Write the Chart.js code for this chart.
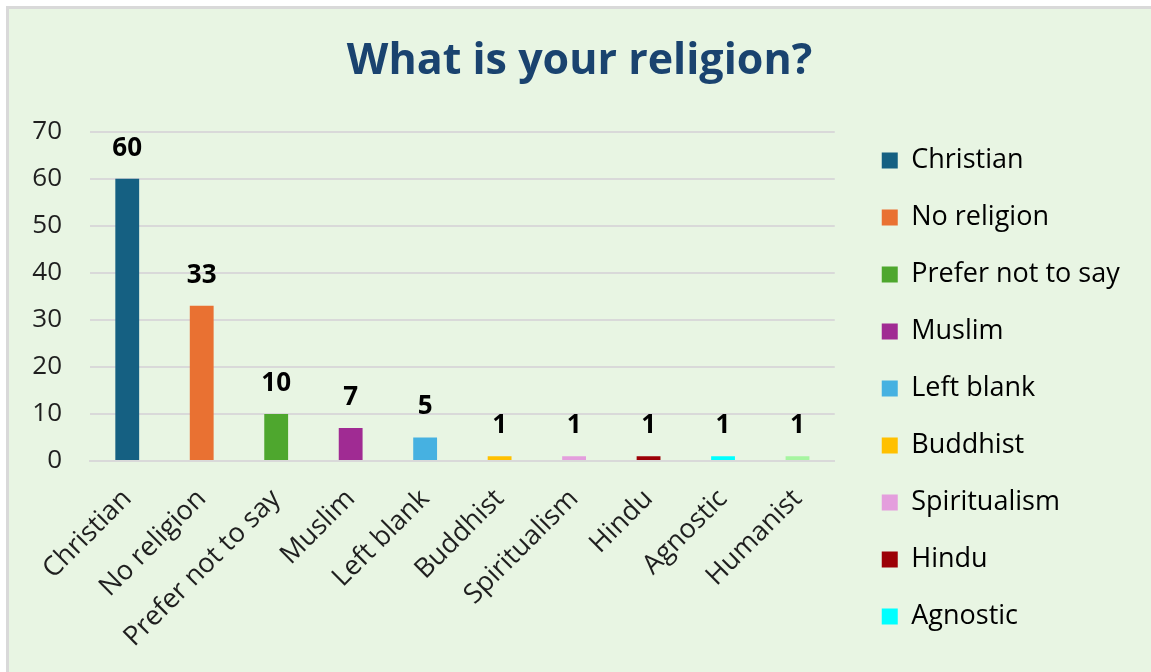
<!DOCTYPE html>
<html>
<head>
<meta charset="utf-8">
<script src="https://cdn.jsdelivr.net/npm/chart.js"></script>
<style>
  html, body { margin: 0; padding: 0; background: #fff; overflow: hidden; }
  .frame {
    position: absolute; left: 6px; top: 6px;
    width: 1160px; height: 700px;
    border: 3px solid #d9d9d9;
    background: #e8f5e3;
    overflow: hidden;
  }
  canvas { display: block; }
</style>
</head>
<body>
<div class="frame">
  <canvas id="religion" width="1142" height="663"></canvas>
</div>
<script>
const religions = ["Christian", "No religion", "Prefer not to say", "Muslim", "Left blank",
  "Buddhist", "Spiritualism", "Hindu", "Agnostic", "Humanist"];
const counts = [60, 33, 10, 7, 5, 1, 1, 1, 1, 1];
const barColours = ["#156082", "#e97132", "#4ea72e", "#a02b93", "#46b1e1",
  "#ffc000", "#e49edd", "#9c0006", "#00ffff", "#a6f5a0"];
const yTicks = [0, 10, 20, 30, 40, 50, 60, 70];
// legend runs out of room before the last entry
const legendShown = 9;

const FONT = "'Open Sans', 'Liberation Sans', sans-serif";

// value printed above every bar
const barValues = {
  id: "barValues",
  afterDatasetsDraw(chart) {
    const ctx = chart.ctx;
    const meta = chart.getDatasetMeta(0);
    ctx.save();
    ctx.font = "bold 26px " + FONT;
    ctx.fillStyle = "#000";
    ctx.textAlign = "center";
    ctx.textBaseline = "alphabetic";
    meta.data.forEach((bar, i) => {
      ctx.fillText(String(counts[i]), bar.x, bar.y - 23);
    });
    ctx.restore();
  }
};

// legend sits a bit off the plot and below the title; title centred on the frame
const boxPlace = {
  id: "boxPlace",
  afterLayout(chart) {
    const lg = chart.legend;
    const dx = 17, top = 108;
    lg.left += dx; lg.right += dx;
    const h = lg.bottom - lg.top;
    lg.top = top; lg.bottom = top + h;
    const t = chart.titleBlock;
    t.left += 20; t.right += 20;
  }
};

new Chart(document.getElementById("religion"), {
  type: "bar",
  data: {
    labels: religions,
    datasets: [{
      label: "Count",
      data: counts,
      backgroundColor: barColours,
      borderWidth: 0,
      barPercentage: 0.32,
      categoryPercentage: 1
    }]
  },
  plugins: [barValues, boxPlace],
  options: {
    responsive: false,
    animation: false,
    layout: { padding: { left: 0, right: 41, top: 0, bottom: 0 } },
    scales: {
      x: {
        grid: { display: false },
        border: { display: true, color: "#d9d9d9", width: 2 },
        ticks: {
          autoSkip: false,
          maxRotation: 45,
          minRotation: 45,
          padding: 14,
          color: "#1f1f1f",
          font: { family: FONT, size: 27 }
        },
        afterFit(scale) { scale.height = 211; }
      },
      y: {
        min: 0,
        max: 70,
        afterBuildTicks(scale) { scale.ticks = yTicks.map(v => ({ value: v })); },
        grid: { color: "#d9d9d9", lineWidth: 2, drawTicks: false },
        border: { display: false },
        ticks: {
          padding: 28,
          color: "#1f1f1f",
          font: { family: FONT, size: 26 }
        },
        afterFit(scale) { scale.width = 81; }
      }
    },
    plugins: {
      title: {
        display: true,
        text: "What is your religion?",
        color: "#1a436f",
        font: { family: FONT, size: 43, weight: "bold" },
        padding: { top: 27, bottom: 44 }
      },
      legend: {
        position: "right",
        align: "start",
        labels: {
          boxWidth: 16,
          boxHeight: 16,
          padding: 30,
          color: "#595959",
          font: { family: FONT, size: 27 },
          generateLabels() {
            return religions.slice(0, legendShown).map((name, i) => ({
              text: name,
              fillStyle: barColours[i],
              strokeStyle: barColours[i],
              lineWidth: 0,
              index: i
            }));
          }
        }
      },
      tooltip: { enabled: false }
    }
  }
});
</script>
</body>
</html>
